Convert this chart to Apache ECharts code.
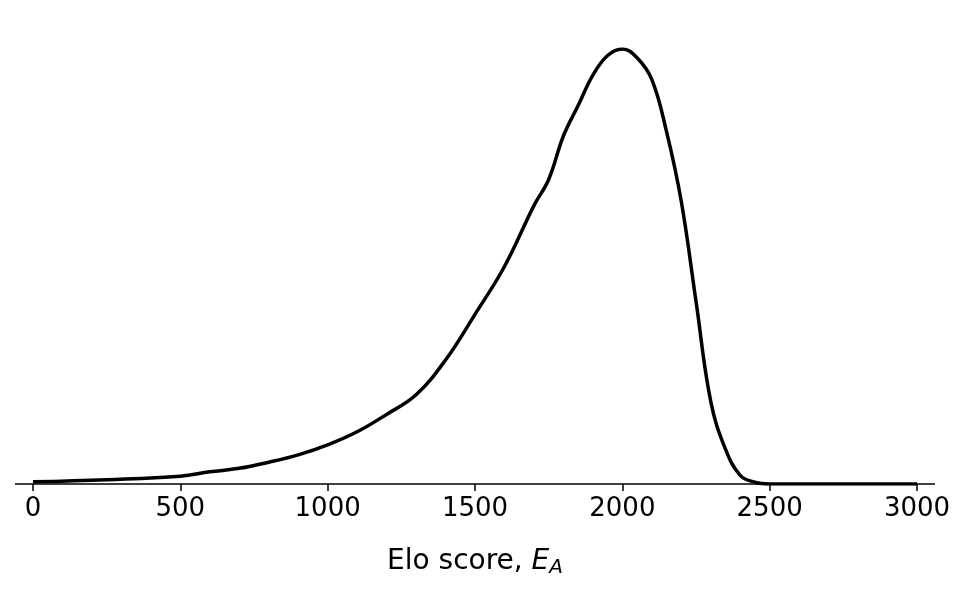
<!DOCTYPE html>
<html><head><meta charset="utf-8">
<script src="https://cdn.jsdelivr.net/npm/echarts@6/dist/echarts.min.js"></script>
<style>html,body{margin:0;background:#fff}#c{width:974px;height:596px}</style>
</head><body><div id="c"></div>
<script>
const xs = [0,250,500,600,700,800,900,1000,1100,1200,1300,1400,1500,1600,1700,1750,1800,1850,1900,1950,2000,2050,2100,2150,2200,2250,2300,2350,2400,2450,2500,2750,3000];
const ys = [0.005,0.01,0.018,0.028,0.036,0.05,0.067,0.09,0.12,0.16,0.205,0.285,0.39,0.50,0.64,0.70,0.80,0.87,0.94,0.985,1.0,0.98,0.93,0.81,0.65,0.42,0.19,0.08,0.02,0.004,0,0,0];
const tickLabels = [0,500,1000,1500,2000,2500,3000];
const chart = echarts.init(document.getElementById('c'));
chart.setOption({
  animation:false,
  grid:{left:33,right:57,top:49,bottom:112},
  xAxis:{type:'value',min:0,max:3000,interval:500,
    axisLine:{show:false},splitLine:{show:false},
    axisTick:{show:true,length:7,lineStyle:{color:'#000',width:1.5}},
    axisLabel:{color:'#000',fontSize:26,fontFamily:'DejaVu Sans',margin:12,
      formatter:v=>tickLabels.includes(v)?String(v):''},
    name:'{n|Elo score, }{i|E}{s|A}',nameLocation:'middle',nameGap:62,
    nameTextStyle:{rich:{n:{fontSize:28,fontFamily:'DejaVu Sans',color:'#000'},
      i:{fontSize:28,fontStyle:'italic',fontFamily:'DejaVu Sans',color:'#000'},
      s:{fontSize:20,fontStyle:'italic',fontFamily:'DejaVu Sans',color:'#000',padding:[12,0,0,0]}}}},
  yAxis:{type:'value',min:0,max:1,show:false},
  graphic:[{type:'line',shape:{x1:15,y1:484,x2:935,y2:484},style:{stroke:'#000',lineWidth:1.5}}],
  series:[{type:'line',data:xs.map((x,i)=>[x,ys[i]]),smooth:0.4,showSymbol:false,
    lineStyle:{color:'#000',width:3.5}}]
});
</script></body></html>
